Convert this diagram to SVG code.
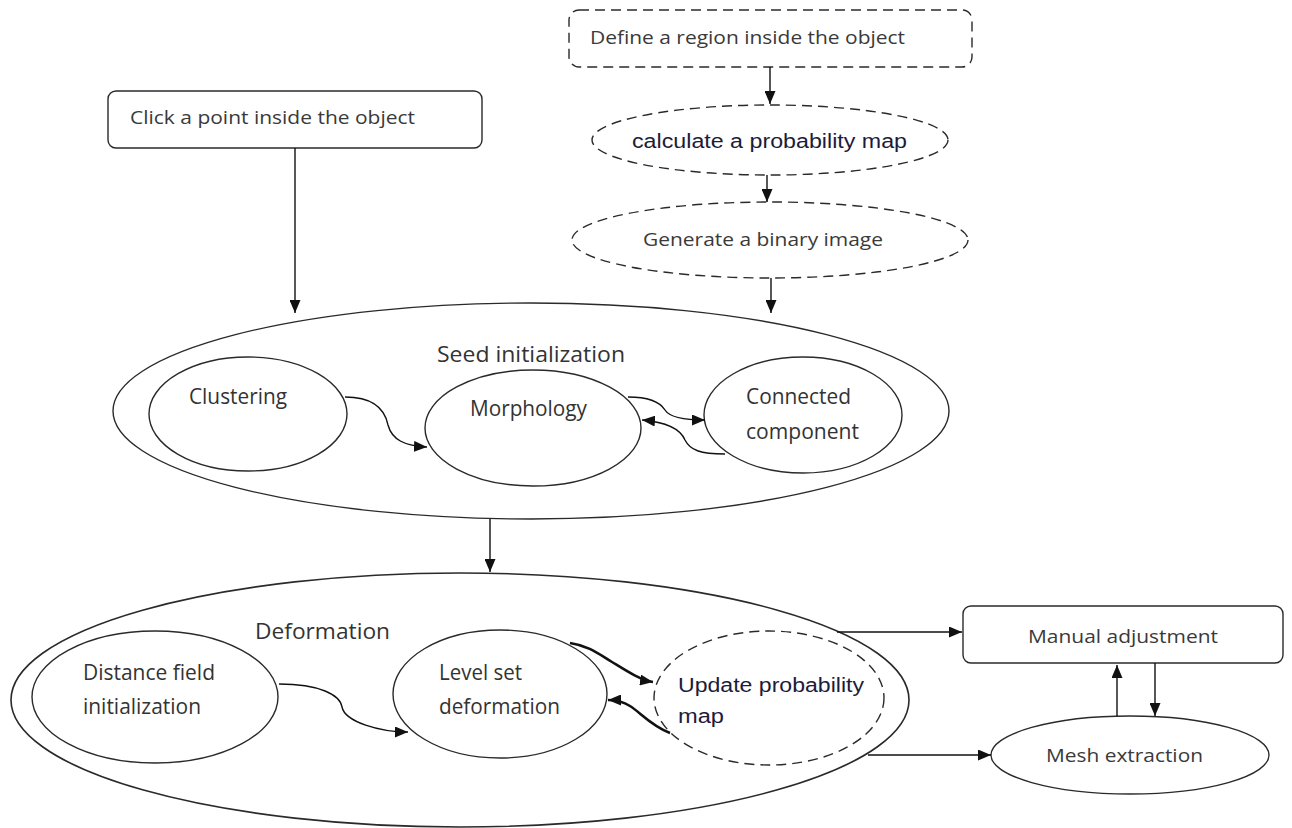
<svg xmlns="http://www.w3.org/2000/svg" width="1292" height="828" viewBox="0 0 1292 828">
<style>
.bg{fill:#ffffff}
.n{fill:#ffffff;stroke:#2a2a2a;stroke-width:1.4}
.nd{fill:#ffffff;stroke:#2a2a2a;stroke-width:1.4;stroke-dasharray:10 6}
.c{fill:none;stroke:#111;stroke-width:1.4}
.ct{fill:none;stroke:#111;stroke-width:2.6}
.t{font-family:"Open Sans","Noto Sans",sans-serif;font-size:18px;fill:#3a3a3a}
.tc{font-family:"Open Sans","Noto Sans",sans-serif;font-size:21px;fill:#333}
.ta{font-family:"Liberation Sans",Arial,sans-serif;font-size:20px;fill:#1c1c3a}
</style>
<defs>
<marker id="ah" viewBox="0 0 13 11" refX="13" refY="5.5" markerWidth="13" markerHeight="11" orient="auto" markerUnits="userSpaceOnUse"><path d="M0,0 L13,5.5 L0,11 z" fill="#111"/></marker>
</defs>
<rect class="bg" x="0" y="0" width="1292" height="828"/>

<g id="define-region">
<rect class="nd" x="569" y="10" width="403" height="57" rx="10"/>
<text class="t" x="590" y="44" textLength="315" lengthAdjust="spacingAndGlyphs">Define a region inside the object</text>
</g>
<g id="calc-prob">
<ellipse class="nd" cx="770" cy="140" rx="178" ry="35"/>
<text class="ta" x="632" y="148" textLength="275" lengthAdjust="spacingAndGlyphs">calculate a probability map</text>
</g>
<g id="gen-binary">
<ellipse class="nd" cx="770" cy="240" rx="198" ry="38"/>
<text class="t" x="643" y="246" textLength="240" lengthAdjust="spacingAndGlyphs">Generate a binary image</text>
</g>
<g id="click-point">
<rect class="n" x="108" y="91" width="374" height="57" rx="8"/>
<text class="t" x="130" y="124" textLength="285" lengthAdjust="spacingAndGlyphs">Click a point inside the object</text>
</g>

<g id="seed-init">
<ellipse class="n" cx="531" cy="411" rx="418" ry="108"/>
<text class="tc" x="437" y="362" textLength="188" lengthAdjust="spacingAndGlyphs">Seed initialization</text>
</g>
<g id="clustering">
<ellipse class="n" cx="248" cy="414" rx="99" ry="57"/>
<text class="tc" x="189" y="404" textLength="98" lengthAdjust="spacingAndGlyphs">Clustering</text>
</g>
<g id="morphology">
<ellipse class="n" cx="533" cy="428" rx="108" ry="58"/>
<text class="tc" x="470" y="416" textLength="117" lengthAdjust="spacingAndGlyphs">Morphology</text>
</g>
<g id="connected-component">
<ellipse class="n" cx="803" cy="415" rx="99" ry="58"/>
<text class="tc" x="746" y="404" textLength="105" lengthAdjust="spacingAndGlyphs">Connected</text>
<text class="tc" x="746" y="439" textLength="113" lengthAdjust="spacingAndGlyphs">component</text>
</g>

<g id="deformation">
<ellipse class="n" cx="460" cy="700" rx="449" ry="127" style="stroke-width:1.6"/>
<text class="tc" x="255" y="639" textLength="135" lengthAdjust="spacingAndGlyphs">Deformation</text>
</g>
<g id="distance-field">
<ellipse class="n" cx="155" cy="697" rx="123" ry="66"/>
<text class="tc" x="83" y="680" textLength="132" lengthAdjust="spacingAndGlyphs">Distance field</text>
<text class="tc" x="83" y="714" textLength="118" lengthAdjust="spacingAndGlyphs">initialization</text>
</g>
<g id="level-set">
<ellipse class="n" cx="500" cy="694" rx="107" ry="64"/>
<text class="tc" x="439" y="680" textLength="83" lengthAdjust="spacingAndGlyphs">Level set</text>
<text class="tc" x="439" y="714" textLength="121" lengthAdjust="spacingAndGlyphs">deformation</text>
</g>
<g id="update-prob">
<ellipse class="nd" cx="769" cy="698" rx="115" ry="67"/>
<text class="ta" x="678" y="692" textLength="186" lengthAdjust="spacingAndGlyphs">Update probability</text>
<text class="ta" x="678" y="723" textLength="46" lengthAdjust="spacingAndGlyphs">map</text>
</g>
<g id="manual-adjustment">
<rect class="n" x="963" y="606" width="320" height="57" rx="8"/>
<text class="t" x="1028" y="643" textLength="190" lengthAdjust="spacingAndGlyphs">Manual adjustment</text>
</g>
<g id="mesh-extraction">
<ellipse class="n" cx="1130" cy="755" rx="139" ry="39"/>
<text class="t" x="1046" y="762" textLength="157" lengthAdjust="spacingAndGlyphs">Mesh extraction</text>
</g>

<g id="connectors">
<path class="c" d="M295,148 V313" marker-end="url(#ah)"/>
<path class="c" d="M770,67 V104" marker-end="url(#ah)"/>
<path class="c" d="M767,175 V202" marker-end="url(#ah)"/>
<path class="c" d="M771,278 V313" marker-end="url(#ah)"/>
<path class="c" d="M490,519 V572" marker-end="url(#ah)"/>
<path class="c" d="M345,397 C375,397 385,410 388,425 C392,440 405,446 427,447" marker-end="url(#ah)"/>
<path class="c" d="M628,397 C650,397 660,402 665,410 C670,418 685,420 705,420" marker-end="url(#ah)"/>
<path class="c" d="M725,454 C700,454 690,450 685,440 C680,428 665,422 642,420" marker-end="url(#ah)"/>
<path class="c" d="M279,684 C320,684 340,695 342,707 C345,722 380,732 408,732" marker-end="url(#ah)"/>
<path class="ct" d="M570,643 C590,646 600,655 612,662 C625,670 640,680 653,682" marker-end="url(#ah)"/>
<path class="ct" d="M670,733 C650,725 640,712 630,706 C622,701 615,700 608,700" marker-end="url(#ah)"/>
<path class="c" d="M837,632 H962" marker-end="url(#ah)"/>
<path class="c" d="M868,755 H991" marker-end="url(#ah)"/>
<path class="c" d="M1117,716 V665" marker-end="url(#ah)"/>
<path class="c" d="M1155,663 V716" marker-end="url(#ah)"/>
</g>
</svg>
